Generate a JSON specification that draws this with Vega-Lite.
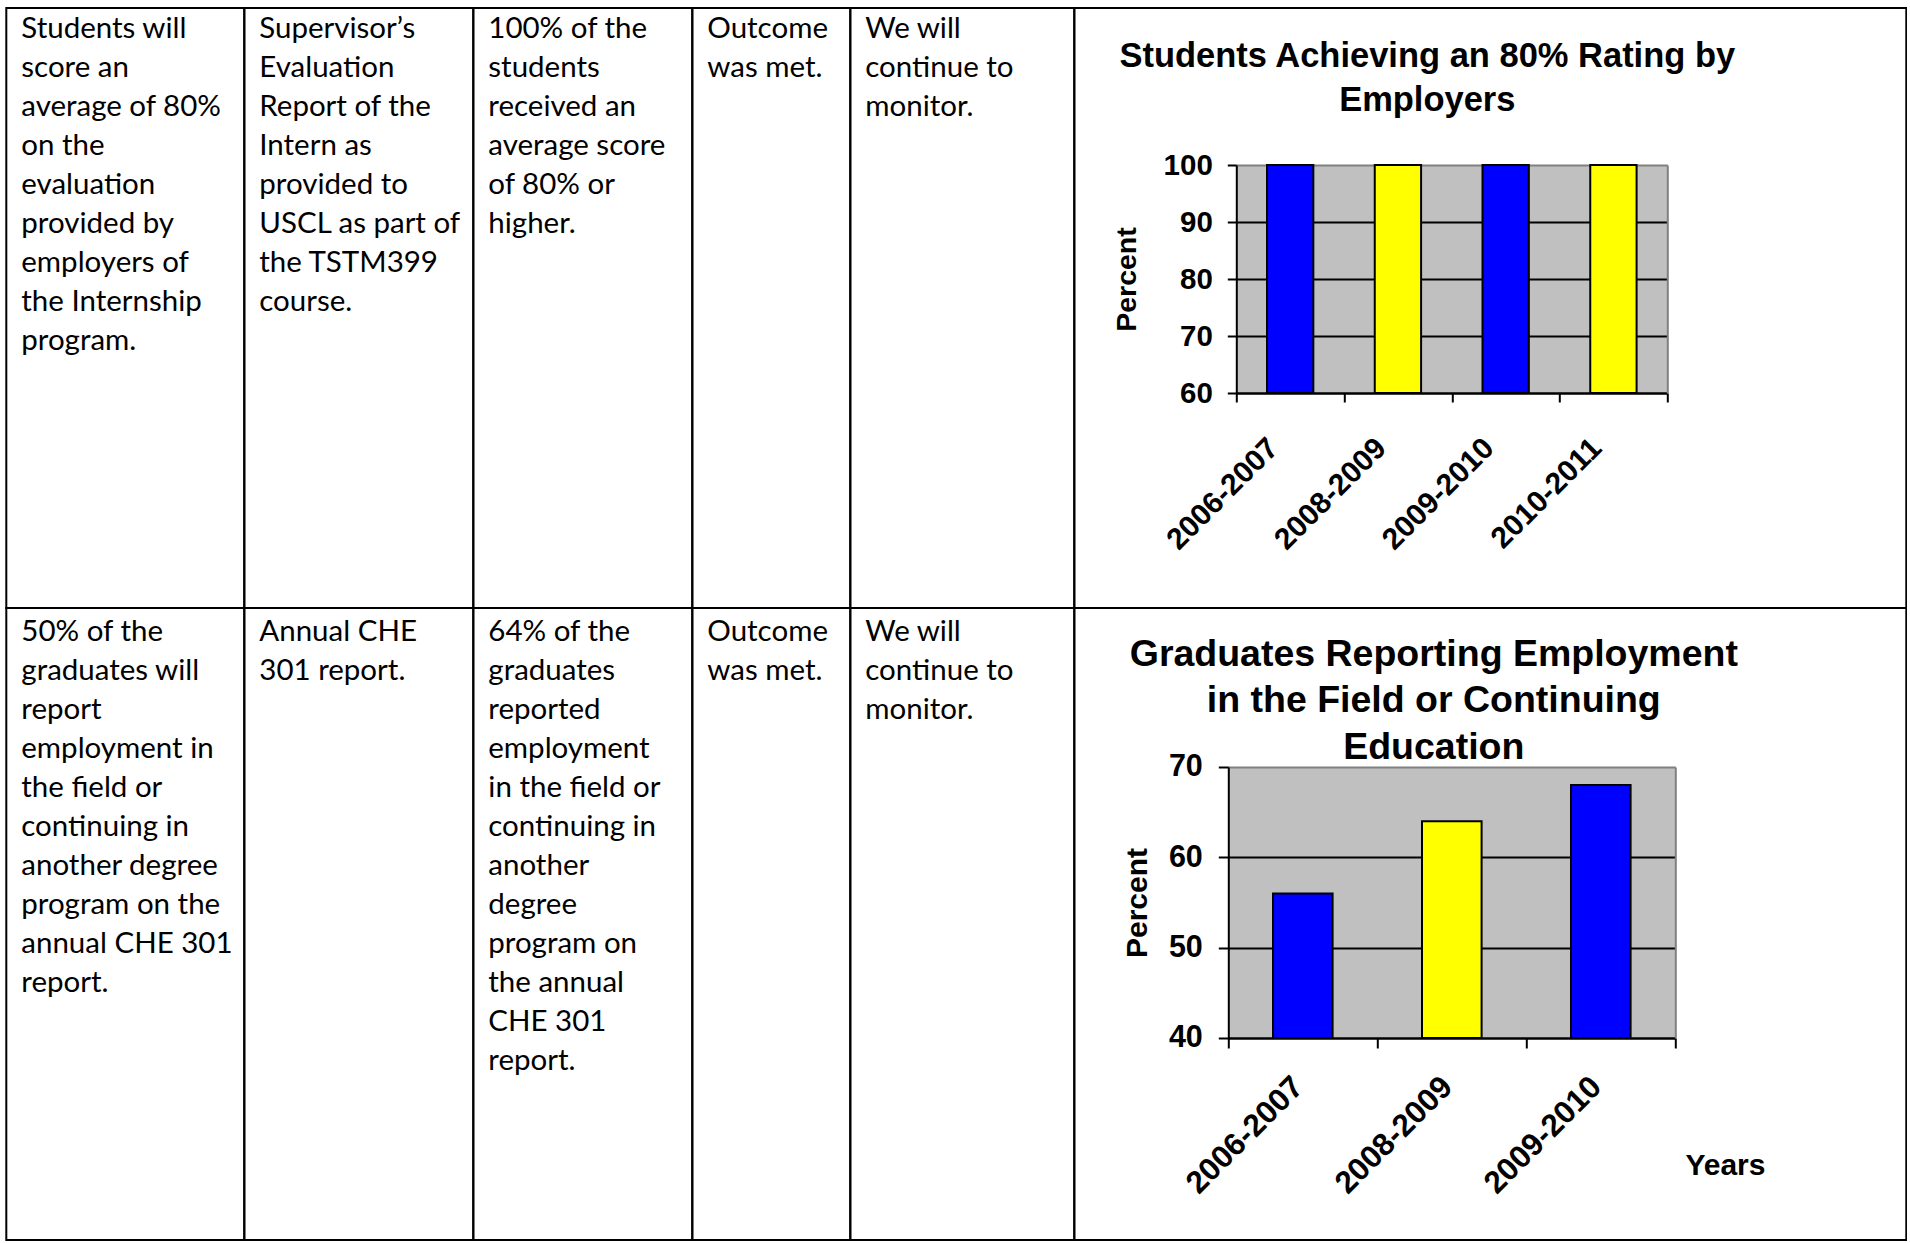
{
  "$schema": "https://vega.github.io/schema/vega-lite/v6.json",
  "background": "white",
  "padding": {"left": 5.3, "top": 7, "right": 0, "bottom": 0},
  "spacing": 0,
  "columns": 6,
  "bounds": "flush",
  "align": "each",
  "config": {
    "view": {"stroke": "black", "strokeWidth": 2, "fill": null},
    "axis": {"labelLimit": 400}
  },
  "datasets": {
    "cells": [
      {"cell": "r1c1", "line": 1, "text": "Students will"},
      {"cell": "r1c1", "line": 2, "text": "score an"},
      {"cell": "r1c1", "line": 3, "text": "average of 80%"},
      {"cell": "r1c1", "line": 4, "text": "on the"},
      {"cell": "r1c1", "line": 5, "text": "evaluation"},
      {"cell": "r1c1", "line": 6, "text": "provided by"},
      {"cell": "r1c1", "line": 7, "text": "employers of"},
      {"cell": "r1c1", "line": 8, "text": "the Internship"},
      {"cell": "r1c1", "line": 9, "text": "program."},
      {"cell": "r1c2", "line": 1, "text": "Supervisor’s"},
      {"cell": "r1c2", "line": 2, "text": "Evaluation"},
      {"cell": "r1c2", "line": 3, "text": "Report of the"},
      {"cell": "r1c2", "line": 4, "text": "Intern as"},
      {"cell": "r1c2", "line": 5, "text": "provided to"},
      {"cell": "r1c2", "line": 6, "text": "USCL as part of"},
      {"cell": "r1c2", "line": 7, "text": "the TSTM399"},
      {"cell": "r1c2", "line": 8, "text": "course."},
      {"cell": "r1c3", "line": 1, "text": "100% of the"},
      {"cell": "r1c3", "line": 2, "text": "students"},
      {"cell": "r1c3", "line": 3, "text": "received an"},
      {"cell": "r1c3", "line": 4, "text": "average score"},
      {"cell": "r1c3", "line": 5, "text": "of 80% or"},
      {"cell": "r1c3", "line": 6, "text": "higher."},
      {"cell": "r1c4", "line": 1, "text": "Outcome"},
      {"cell": "r1c4", "line": 2, "text": "was met."},
      {"cell": "r1c5", "line": 1, "text": "We will"},
      {"cell": "r1c5", "line": 2, "text": "continue to"},
      {"cell": "r1c5", "line": 3, "text": "monitor."},
      {"cell": "r2c1", "line": 1, "text": "50% of the"},
      {"cell": "r2c1", "line": 2, "text": "graduates will"},
      {"cell": "r2c1", "line": 3, "text": "report"},
      {"cell": "r2c1", "line": 4, "text": "employment in"},
      {"cell": "r2c1", "line": 5, "text": "the field or"},
      {"cell": "r2c1", "line": 6, "text": "continuing in"},
      {"cell": "r2c1", "line": 7, "text": "another degree"},
      {"cell": "r2c1", "line": 8, "text": "program on the"},
      {"cell": "r2c1", "line": 9, "text": "annual CHE 301"},
      {"cell": "r2c1", "line": 10, "text": "report."},
      {"cell": "r2c2", "line": 1, "text": "Annual CHE"},
      {"cell": "r2c2", "line": 2, "text": "301 report."},
      {"cell": "r2c3", "line": 1, "text": "64% of the"},
      {"cell": "r2c3", "line": 2, "text": "graduates"},
      {"cell": "r2c3", "line": 3, "text": "reported"},
      {"cell": "r2c3", "line": 4, "text": "employment"},
      {"cell": "r2c3", "line": 5, "text": "in the field or"},
      {"cell": "r2c3", "line": 6, "text": "continuing in"},
      {"cell": "r2c3", "line": 7, "text": "another"},
      {"cell": "r2c3", "line": 8, "text": "degree"},
      {"cell": "r2c3", "line": 9, "text": "program on"},
      {"cell": "r2c3", "line": 10, "text": "the annual"},
      {"cell": "r2c3", "line": 11, "text": "CHE 301"},
      {"cell": "r2c3", "line": 12, "text": "report."},
      {"cell": "r2c4", "line": 1, "text": "Outcome"},
      {"cell": "r2c4", "line": 2, "text": "was met."},
      {"cell": "r2c5", "line": 1, "text": "We will"},
      {"cell": "r2c5", "line": 2, "text": "continue to"},
      {"cell": "r2c5", "line": 3, "text": "monitor."}
    ],
    "emp": [
      {"year": "2006-2007", "pct": 100},
      {"year": "2008-2009", "pct": 100},
      {"year": "2009-2010", "pct": 100},
      {"year": "2010-2011", "pct": 100}
    ],
    "grad": [
      {"year": "2006-2007", "pct": 56},
      {"year": "2008-2009", "pct": 64},
      {"year": "2009-2010", "pct": 68}
    ]
  },
  "concat": [
    {"width": 238, "height": 600, "data": {"name": "cells"}, "transform": [{"filter": "datum.cell === 'r1c1'"}],
     "mark": {"type": "text", "align": "left", "baseline": "alphabetic", "dx": 15, "font": "Lato", "fontSize": 29.5, "color": "black"},
     "encoding": {"x": {"datum": 0, "type": "quantitative", "scale": {"domain": [0, 1]}, "axis": null},
                  "y": {"field": "line", "type": "quantitative", "scale": {"domain": [1, 16], "range": [29.5, 614.5], "nice": false}, "axis": null},
                  "text": {"field": "text"}}},
    {"width": 229, "height": 600, "data": {"name": "cells"}, "transform": [{"filter": "datum.cell === 'r1c2'"}],
     "mark": {"type": "text", "align": "left", "baseline": "alphabetic", "dx": 15, "font": "Lato", "fontSize": 29.5, "color": "black"},
     "encoding": {"x": {"datum": 0, "type": "quantitative", "scale": {"domain": [0, 1]}, "axis": null},
                  "y": {"field": "line", "type": "quantitative", "scale": {"domain": [1, 16], "range": [29.5, 614.5], "nice": false}, "axis": null},
                  "text": {"field": "text"}}},
    {"width": 219, "height": 600, "data": {"name": "cells"}, "transform": [{"filter": "datum.cell === 'r1c3'"}],
     "mark": {"type": "text", "align": "left", "baseline": "alphabetic", "dx": 15, "font": "Lato", "fontSize": 29.5, "color": "black"},
     "encoding": {"x": {"datum": 0, "type": "quantitative", "scale": {"domain": [0, 1]}, "axis": null},
                  "y": {"field": "line", "type": "quantitative", "scale": {"domain": [1, 16], "range": [29.5, 614.5], "nice": false}, "axis": null},
                  "text": {"field": "text"}}},
    {"width": 158, "height": 600, "data": {"name": "cells"}, "transform": [{"filter": "datum.cell === 'r1c4'"}],
     "mark": {"type": "text", "align": "left", "baseline": "alphabetic", "dx": 15, "font": "Lato", "fontSize": 29.5, "color": "black"},
     "encoding": {"x": {"datum": 0, "type": "quantitative", "scale": {"domain": [0, 1]}, "axis": null},
                  "y": {"field": "line", "type": "quantitative", "scale": {"domain": [1, 16], "range": [29.5, 614.5], "nice": false}, "axis": null},
                  "text": {"field": "text"}}},
    {"width": 224, "height": 600, "data": {"name": "cells"}, "transform": [{"filter": "datum.cell === 'r1c5'"}],
     "mark": {"type": "text", "align": "left", "baseline": "alphabetic", "dx": 15, "font": "Lato", "fontSize": 29.5, "color": "black"},
     "encoding": {"x": {"datum": 0, "type": "quantitative", "scale": {"domain": [0, 1]}, "axis": null},
                  "y": {"field": "line", "type": "quantitative", "scale": {"domain": [1, 16], "range": [29.5, 614.5], "nice": false}, "axis": null},
                  "text": {"field": "text"}}},
    {
      "width": 832, "height": 600,
      "data": {"name": "emp"},
      "title": {"text": ["Students Achieving an 80% Rating by", "Employers"], "anchor": "middle", "frame": "group", "align": "center", "baseline": "alphabetic", "dx": -63, "offset": -137.7, "lineHeight": 44.5, "font": "Liberation Sans", "fontSize": 34.5, "fontWeight": "bold", "color": "black"},
      "layer": [
        {
          "mark": {"type": "bar", "opacity": 0, "width": {"band": 0.43}},
          "encoding": {
            "x": {"field": "year", "type": "nominal", "sort": null, "scale": {"range": [162, 593], "paddingInner": 0, "paddingOuter": 0},
                  "axis": {"orient": "bottom", "offset": -215, "tickBand": "extent", "grid": false, "domainColor": "black", "domainWidth": 2, "tickColor": "black", "tickWidth": 2, "tickSize": 9, "labelAngle": -45, "labelAlign": "right", "labelBaseline": "middle", "labelPadding": 41, "labelOffset": -17, "labelFont": "Liberation Sans", "labelFontSize": 30, "labelFontWeight": "bold", "labelColor": "black", "title": null}},
            "y": {"field": "pct", "type": "quantitative", "scale": {"domain": [60, 100], "range": [385, 157], "nice": false, "zero": false},
                  "axis": {"orient": "left", "offset": -162, "values": [80], "grid": true, "gridColor": "#C0C0C0", "gridWidth": 228, "gridCap": "butt", "gridOpacity": 1, "domain": false, "ticks": false, "labels": false, "title": null}},
            "y2": {"datum": 60}
          }
        },
        {
          "mark": {"type": "bar", "width": {"band": 0.43}, "stroke": "black", "strokeWidth": 2},
          "encoding": {
            "x": {"field": "year", "type": "nominal", "sort": null, "scale": {"range": [162, 593], "paddingInner": 0, "paddingOuter": 0}},
            "y": {"field": "pct", "type": "quantitative", "scale": {"domain": [60, 100], "range": [385, 157], "nice": false, "zero": false},
                  "axis": {"orient": "left", "offset": -162, "values": [60, 70, 80, 90, 100], "grid": true, "gridColor": {"condition": {"test": "datum.value >= 100", "value": "#808080"}, "value": "black"}, "gridWidth": 2, "gridOpacity": 1, "domainColor": "black", "domainWidth": 2, "tickColor": "black", "tickWidth": 2, "tickSize": 9, "labelFont": "Liberation Sans", "labelFontSize": 29.5, "labelFontWeight": "bold", "labelColor": "black", "labelPadding": 15, "title": "Percent", "titleFont": "Liberation Sans", "titleFontSize": 28.5, "titleFontWeight": "bold", "titleColor": "black", "titleX": -101, "titleBaseline": "alphabetic"}},
            "y2": {"datum": 60},
            "color": {"field": "year", "type": "nominal", "sort": null, "scale": {"range": ["#0000FF", "#FFFF00", "#0000FF", "#FFFF00"]}, "legend": null}
          }
        },
        {
          "mark": {"type": "bar", "opacity": 0, "width": {"band": 0.43}},
          "encoding": {
            "x": {"field": "year", "type": "nominal", "sort": null, "scale": {"range": [162, 593], "paddingInner": 0, "paddingOuter": 0}},
            "y": {"field": "pct", "type": "quantitative", "scale": {"domain": [60, 100], "range": [385, 157], "nice": false, "zero": false},
                  "axis": {"orient": "right", "offset": -239, "grid": false, "domain": true, "domainColor": "#808080", "domainWidth": 2, "ticks": false, "labels": false, "title": null}},
            "y2": {"datum": 60}
          }
        }
      ],
      "resolve": {"scale": {"y": "independent"}, "axis": {"y": "independent"}}
    },
    {"width": 238, "height": 632, "data": {"name": "cells"}, "transform": [{"filter": "datum.cell === 'r2c1'"}],
     "mark": {"type": "text", "align": "left", "baseline": "alphabetic", "dx": 15, "font": "Lato", "fontSize": 29.5, "color": "black"},
     "encoding": {"x": {"datum": 0, "type": "quantitative", "scale": {"domain": [0, 1]}, "axis": null},
                  "y": {"field": "line", "type": "quantitative", "scale": {"domain": [1, 16], "range": [33, 618], "nice": false}, "axis": null},
                  "text": {"field": "text"}}},
    {"width": 229, "height": 632, "data": {"name": "cells"}, "transform": [{"filter": "datum.cell === 'r2c2'"}],
     "mark": {"type": "text", "align": "left", "baseline": "alphabetic", "dx": 15, "font": "Lato", "fontSize": 29.5, "color": "black"},
     "encoding": {"x": {"datum": 0, "type": "quantitative", "scale": {"domain": [0, 1]}, "axis": null},
                  "y": {"field": "line", "type": "quantitative", "scale": {"domain": [1, 16], "range": [33, 618], "nice": false}, "axis": null},
                  "text": {"field": "text"}}},
    {"width": 219, "height": 632, "data": {"name": "cells"}, "transform": [{"filter": "datum.cell === 'r2c3'"}],
     "mark": {"type": "text", "align": "left", "baseline": "alphabetic", "dx": 15, "font": "Lato", "fontSize": 29.5, "color": "black"},
     "encoding": {"x": {"datum": 0, "type": "quantitative", "scale": {"domain": [0, 1]}, "axis": null},
                  "y": {"field": "line", "type": "quantitative", "scale": {"domain": [1, 16], "range": [33, 618], "nice": false}, "axis": null},
                  "text": {"field": "text"}}},
    {"width": 158, "height": 632, "data": {"name": "cells"}, "transform": [{"filter": "datum.cell === 'r2c4'"}],
     "mark": {"type": "text", "align": "left", "baseline": "alphabetic", "dx": 15, "font": "Lato", "fontSize": 29.5, "color": "black"},
     "encoding": {"x": {"datum": 0, "type": "quantitative", "scale": {"domain": [0, 1]}, "axis": null},
                  "y": {"field": "line", "type": "quantitative", "scale": {"domain": [1, 16], "range": [33, 618], "nice": false}, "axis": null},
                  "text": {"field": "text"}}},
    {"width": 224, "height": 632, "data": {"name": "cells"}, "transform": [{"filter": "datum.cell === 'r2c5'"}],
     "mark": {"type": "text", "align": "left", "baseline": "alphabetic", "dx": 15, "font": "Lato", "fontSize": 29.5, "color": "black"},
     "encoding": {"x": {"datum": 0, "type": "quantitative", "scale": {"domain": [0, 1]}, "axis": null},
                  "y": {"field": "line", "type": "quantitative", "scale": {"domain": [1, 16], "range": [33, 618], "nice": false}, "axis": null},
                  "text": {"field": "text"}}},
    {
      "width": 832, "height": 632,
      "data": {"name": "grad"},
      "title": {"text": ["Graduates Reporting Employment", "in the Field or Continuing", "Education"], "anchor": "middle", "frame": "group", "align": "center", "baseline": "alphabetic", "dx": -56.5, "offset": -188.2, "lineHeight": 46.5, "font": "Liberation Sans", "fontSize": 37.5, "fontWeight": "bold", "color": "black"},
      "layer": [
        {
          "mark": {"type": "bar", "opacity": 0, "width": {"band": 0.4}},
          "encoding": {
            "x": {"field": "year", "type": "nominal", "sort": null, "scale": {"range": [154, 601], "paddingInner": 0, "paddingOuter": 0},
                  "axis": {"orient": "bottom", "offset": -202, "tickBand": "extent", "grid": false, "domainColor": "black", "domainWidth": 2, "tickColor": "black", "tickWidth": 2, "tickSize": 10, "labelAngle": -45, "labelAlign": "right", "labelBaseline": "middle", "labelPadding": 34, "labelOffset": -4.5, "labelFont": "Liberation Sans", "labelFontSize": 31.5, "labelFontWeight": "bold", "labelColor": "black", "title": "Years", "titleFont": "Liberation Sans", "titleFontSize": 30, "titleFontWeight": "bold", "titleColor": "black", "titleX": 610.6, "titleY": 137, "titleAlign": "left", "titleBaseline": "alphabetic", "titleAngle": 0}},
            "y": {"field": "pct", "type": "quantitative", "scale": {"domain": [40, 70], "range": [430, 159], "nice": false, "zero": false},
                  "axis": {"orient": "left", "offset": -154, "values": [55], "grid": true, "gridColor": "#C0C0C0", "gridWidth": 271, "gridCap": "butt", "gridOpacity": 1, "domain": false, "ticks": false, "labels": false, "title": null}},
            "y2": {"datum": 40}
          }
        },
        {
          "mark": {"type": "bar", "width": {"band": 0.4}, "stroke": "black", "strokeWidth": 2},
          "encoding": {
            "x": {"field": "year", "type": "nominal", "sort": null, "scale": {"range": [154, 601], "paddingInner": 0, "paddingOuter": 0}},
            "y": {"field": "pct", "type": "quantitative", "scale": {"domain": [40, 70], "range": [430, 159], "nice": false, "zero": false},
                  "axis": {"orient": "left", "offset": -154, "values": [40, 50, 60, 70], "grid": true, "gridColor": {"condition": {"test": "datum.value >= 70", "value": "#808080"}, "value": "black"}, "gridWidth": 2, "gridOpacity": 1, "domainColor": "black", "domainWidth": 2, "tickColor": "black", "tickWidth": 2, "tickSize": 10, "labelFont": "Liberation Sans", "labelFontSize": 30.5, "labelFontWeight": "bold", "labelColor": "black", "labelPadding": 16, "title": "Percent", "titleFont": "Liberation Sans", "titleFontSize": 30, "titleFontWeight": "bold", "titleColor": "black", "titleX": -82, "titleBaseline": "alphabetic"}},
            "y2": {"datum": 40},
            "color": {"field": "year", "type": "nominal", "sort": null, "scale": {"range": ["#0000FF", "#FFFF00", "#0000FF"]}, "legend": null}
          }
        },
        {
          "mark": {"type": "bar", "opacity": 0, "width": {"band": 0.4}},
          "encoding": {
            "x": {"field": "year", "type": "nominal", "sort": null, "scale": {"range": [154, 601], "paddingInner": 0, "paddingOuter": 0}},
            "y": {"field": "pct", "type": "quantitative", "scale": {"domain": [40, 70], "range": [430, 159], "nice": false, "zero": false},
                  "axis": {"orient": "right", "offset": -231, "grid": false, "domain": true, "domainColor": "#808080", "domainWidth": 2, "ticks": false, "labels": false, "title": null}},
            "y2": {"datum": 40}
          }
        }
      ],
      "resolve": {"scale": {"y": "independent"}, "axis": {"y": "independent"}}
    }
  ]
}
